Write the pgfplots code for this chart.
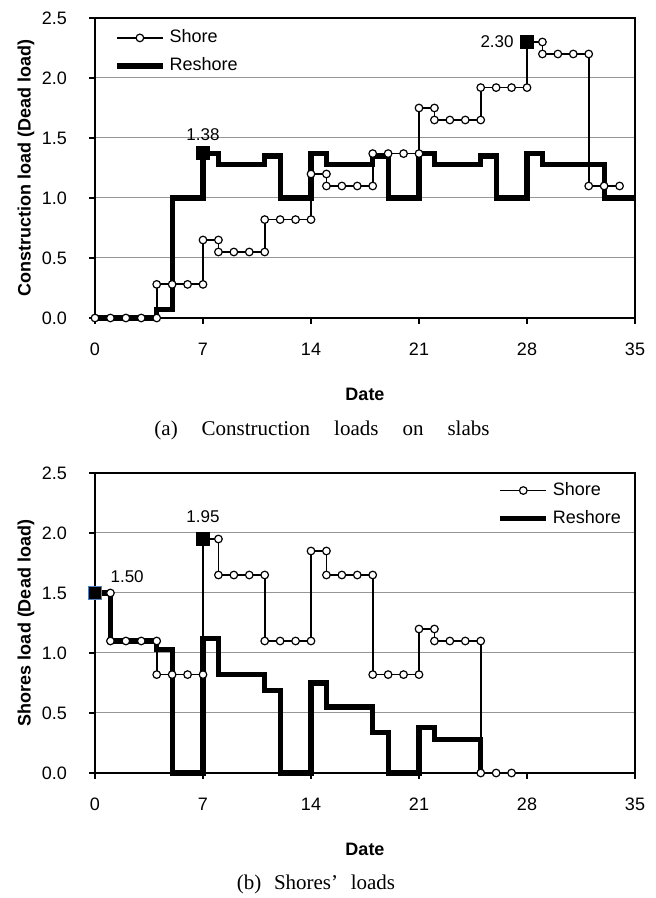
\documentclass[border=0pt]{standalone}
\usepackage{fontspec}
\setmainfont{Liberation Sans}
\newfontfamily\capfont{Liberation Serif}
\usepackage{pgfplots}
\pgfplotsset{compat=1.18}
\definecolor{gridgray}{RGB}{150,150,150}
\definecolor{edgeblue}{RGB}{79,129,189}
\pgfplotsset{
  myax/.style={
    scale only axis, width=270pt, height=150pt,
    xmin=0, xmax=35, ymin=0, ymax=2.5,
    xtick={0,7,14,21,28,35}, ytick={0,0.5,1,1.5,2,2.5},
    xtick pos=bottom, ytick pos=left,
    yticklabel style={/pgf/number format/fixed, /pgf/number format/fixed zerofill, /pgf/number format/precision=1, xshift=-7.5pt},
    xticklabel style={yshift=-6pt},
    ymajorgrids, grid style={gridgray, line width=0.5pt},
    tick align=outside, major tick length=3pt,
    tick style={black, line width=0.6pt},
    axis line style={black, line width=0.8pt},
    tick label style={font=\fontsize{9}{10}\selectfont},
    /pgf/number format/assume math mode=true,
    label style={font=\bfseries\fontsize{9}{11}\selectfont},
    xlabel={Date},
    xlabel style={at={(axis description cs:0.5,-0.255)}, anchor=center},
    ylabel style={at={(axis description cs:-0.128,0.5)}, anchor=center},
    clip=false,
    legend style={draw=none, fill=none, font=\fontsize{9}{11}\selectfont, inner sep=0pt, row sep=2pt, cells={anchor=west}},
    legend image code/.code={\draw[mark repeat=2,mark phase=2] plot coordinates {(0pt,0pt)(11.5pt,0pt)(23pt,0pt)};},
  },
  shore/.style={black, line width=0.9pt, mark=*, mark size=1.9pt, mark options={fill=white, draw=black, line width=0.6pt, solid}},
  reshore/.style={black, line width=2.6pt, no markers, line join=miter},
  sq/.style={only marks, mark=square*, mark size=3.1pt, mark options={fill=black, draw=black}, forget plot, nodes near coords style={font=\fontsize{8.5}{10}\selectfont, inner sep=2pt}},
}
\begin{document}
\begin{tikzpicture}
\path[use as bounding box] (0,0) rectangle (327.5pt,449pt);
% ---------- (a) ----------
\begin{axis}[myax, at={(47.5pt,290pt)}, anchor=south west,
  ylabel={Construction load (Dead load)},
  legend style={at={(axis description cs:0.035,0.975)}, anchor=north west}]
\addplot[shore] coordinates {
(0,0)(1,0)(2,0)(3,0)(4,0)(4,0.28)(5,0.28)(6,0.28)(7,0.28)(7,0.65)(8,0.65)(8,0.55)(9,0.55)(10,0.55)(11,0.55)(11,0.82)(12,0.82)(13,0.82)(14,0.82)(14,1.20)(15,1.20)(15,1.10)(16,1.10)(17,1.10)(18,1.10)(18,1.37)(19,1.37)(20,1.37)(21,1.37)(21,1.75)(22,1.75)(22,1.65)(23,1.65)(24,1.65)(25,1.65)(25,1.92)(26,1.92)(27,1.92)(28,1.92)(28,2.30)(29,2.30)(29,2.20)(30,2.20)(31,2.20)(32,2.20)(32,1.10)(33,1.10)(34,1.10)};
\addlegendentry{Shore}
\addplot[reshore] coordinates {
(0,0)(4,0)(4,0.07)(5,0.07)(5,1.0)(7,1.0)(7,1.37)(8,1.37)(8,1.28)(11,1.28)(11,1.35)(12,1.35)(12,1.0)(14,1.0)(14,1.37)(15,1.37)(15,1.28)(18,1.28)(18,1.35)(19,1.35)(19,1.0)(21,1.0)(21,1.37)(22,1.37)(22,1.28)(25,1.28)(25,1.35)(26,1.35)(26,1.0)(28,1.0)(28,1.37)(29,1.37)(29,1.28)(33,1.28)(33,1.0)(35,1.0)};
\addlegendentry{Reshore}
\addplot[sq, nodes near coords={1.38}, nodes near coords style={anchor=south, yshift=4pt}] coordinates {(7,1.375)};
\addplot[sq, nodes near coords={2.30}, nodes near coords style={anchor=east, xshift=-4.5pt}] coordinates {(28,2.30)};
\end{axis}
\node[font=\capfont\fontsize{10.5}{12}\selectfont] at (161pt,234pt) {(a)\hspace{12pt}Construction\hspace{12pt}loads\hspace{12pt}on\hspace{12pt}slabs};
% ---------- (b) ----------
\begin{axis}[myax, at={(47.5pt,62.5pt)}, anchor=south west,
  ylabel={Shores load (Dead load)},
  legend style={at={(axis description cs:0.745,0.983)}, anchor=north west}]
\addplot[shore] coordinates {
(0,1.50)(1,1.50)(1,1.10)(2,1.10)(3,1.10)(4,1.10)(4,0.82)(5,0.82)(6,0.82)(7,0.82)(7,1.95)(8,1.95)(8,1.65)(9,1.65)(10,1.65)(11,1.65)(11,1.10)(12,1.10)(13,1.10)(14,1.10)(14,1.85)(15,1.85)(15,1.65)(16,1.65)(17,1.65)(18,1.65)(18,0.82)(19,0.82)(20,0.82)(21,0.82)(21,1.20)(22,1.20)(22,1.10)(23,1.10)(24,1.10)(25,1.10)(25,0)(26,0)(27,0)};
\addlegendentry{Shore}
\addplot[reshore] coordinates {
(0,1.50)(1,1.50)(1,1.10)(4,1.10)(4,1.03)(5,1.03)(5,0)(7,0)(7,1.12)(8,1.12)(8,0.82)(11,0.82)(11,0.69)(12,0.69)(12,0)(14,0)(14,0.75)(15,0.75)(15,0.55)(18,0.55)(18,0.34)(19,0.34)(19,0)(21,0)(21,0.38)(22,0.38)(22,0.28)(25,0.28)(25,0)};
\addlegendentry{Reshore}
\addplot[sq, mark options={fill=black, draw=edgeblue, line width=0.6pt}, nodes near coords={1.50}, nodes near coords style={anchor=west, xshift=5.5pt, yshift=8pt}] coordinates {(0,1.50)};
\addplot[sq, nodes near coords={1.95}, nodes near coords style={anchor=south, yshift=5.8pt}] coordinates {(7,1.95)};
\end{axis}
\node[font=\capfont\fontsize{10.5}{12}\selectfont] at (158pt,7pt) {(b)\hspace{0.6em}Shores’\hspace{0.6em}loads};
\end{tikzpicture}
\end{document}
